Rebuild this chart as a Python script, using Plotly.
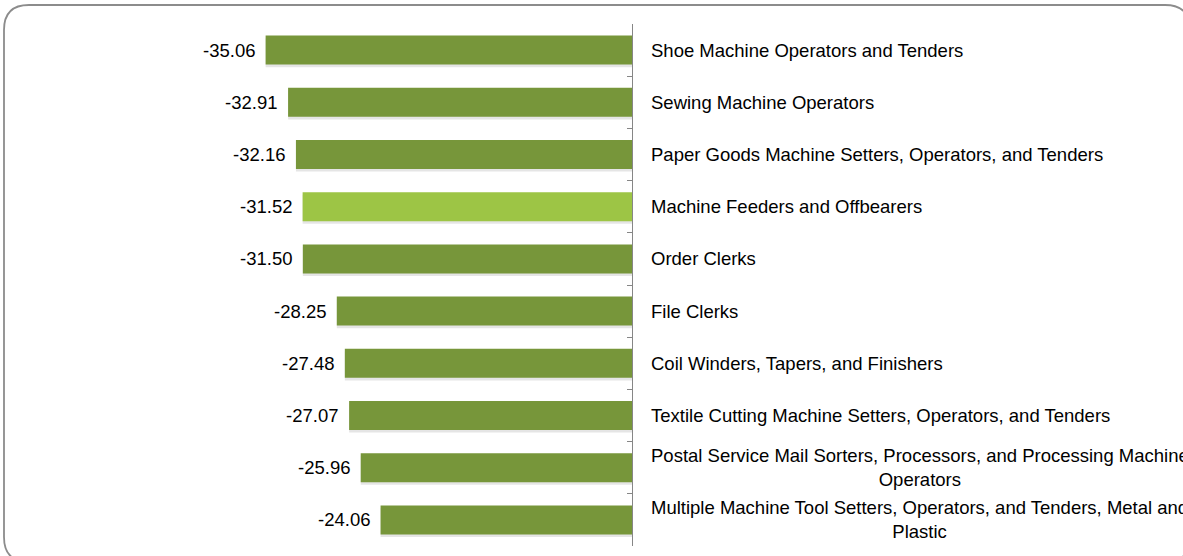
import plotly.graph_objects as go

categories = [
    "Shoe Machine Operators and Tenders",
    "Sewing Machine Operators",
    "Paper Goods Machine Setters, Operators, and Tenders",
    "Machine Feeders and Offbearers",
    "Order Clerks",
    "File Clerks",
    "Coil Winders, Tapers, and Finishers",
    "Textile Cutting Machine Setters, Operators, and Tenders",
    "Postal Service Mail Sorters, Processors, and Processing Machine<br>Operators",
    "Multiple Machine Tool Setters, Operators, and Tenders, Metal and<br>Plastic",
]
values = [-35.06, -32.91, -32.16, -31.52, -31.50, -28.25, -27.48, -27.07, -25.96, -24.06]
highlight = "Machine Feeders and Offbearers"

DARK = "#77963A"
LIGHT = "#9DC545"
colors = [LIGHT if c == highlight else DARK for c in categories]

W, H = 1183, 556
ML, MR, MT, MB = 214, 551, 24, 10
PW = W - ML - MR
PH = H - MT - MB
FONT = dict(family="Liberation Sans, Arial", size=18.5, color="#000000")


def xp(px):
    return (px - ML) / PW


def yp(py):
    return (H - MB - py) / PH


fig = go.Figure()

# soft shadow under bars
fig.add_trace(go.Bar(
    x=values, y=categories, orientation="h",
    marker=dict(color="rgba(0,0,0,0.10)", line=dict(width=0)),
    width=0.556, offset=-0.278 + 0.05,
    hoverinfo="skip", showlegend=False,
))
fig.add_trace(go.Bar(
    x=values, y=categories, orientation="h",
    marker=dict(color=colors, line=dict(width=0)),
    width=0.556, offset=-0.278,
    showlegend=False,
))

annotations = []
for c, v in zip(categories, values):
    annotations.append(dict(
        x=v, y=c, xref="x", yref="y", text=f"{v:.2f}",
        showarrow=False, xanchor="right", yanchor="middle", xshift=-9,
        font=FONT,
    ))
    annotations.append(dict(
        x=0, y=c, xref="x", yref="y", text=c,
        showarrow=False, xanchor="left", yanchor="middle", xshift=17,
        align="center", font=FONT,
    ))

# rounded outer frame
L, T, R, B, r = 4, 5, 1190, 562, 25
path = (
    f"M {xp(L + r)},{yp(T)} L {xp(R - r)},{yp(T)} "
    f"Q {xp(R)},{yp(T)} {xp(R)},{yp(T + r)} "
    f"L {xp(R)},{yp(B - r)} Q {xp(R)},{yp(B)} {xp(R - r)},{yp(B)} "
    f"L {xp(L + r)},{yp(B)} Q {xp(L)},{yp(B)} {xp(L)},{yp(B - r)} "
    f"L {xp(L)},{yp(T + r)} Q {xp(L)},{yp(T)} {xp(L + r)},{yp(T)} Z"
)
shapes = [dict(type="path", xref="paper", yref="paper", path=path,
               line=dict(color="#8C8C8C", width=1.8), fillcolor="rgba(0,0,0,0)",
               layer="above")]

fig.update_layout(
    width=W, height=H,
    margin=dict(l=ML, r=MR, t=MT, b=MB, pad=0),
    paper_bgcolor="white", plot_bgcolor="white",
    barmode="overlay",
    showlegend=False,
    xaxis=dict(range=[-40, 0], showgrid=False, zeroline=False, showline=False,
               showticklabels=False, ticks="", fixedrange=True),
    yaxis=dict(type="category", autorange="reversed", side="right",
               showgrid=False, zeroline=False, showline=True,
               linecolor="#868686", linewidth=1.2,
               ticks="inside", tickson="boundaries", ticklen=5,
               tickcolor="#868686", tickwidth=1.2,
               showticklabels=False, fixedrange=True),
    annotations=annotations,
    shapes=shapes,
)

fig.write_html(
    "out.html",
    config={"displayModeBar": False},
    post_script="document.body.style.margin='0';document.body.style.overflow='hidden';",
)
